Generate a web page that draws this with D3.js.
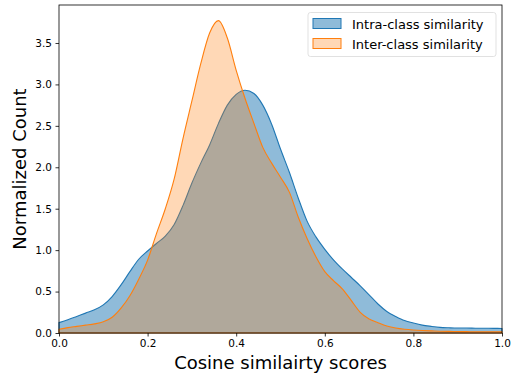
<!DOCTYPE html>
<html>
<head>
<meta charset="utf-8">
<script src="https://cdn.jsdelivr.net/npm/d3@7"></script>
<style>
  html, body { margin: 0; padding: 0; background: #fff; }
  svg { display: block; font-family: "DejaVu Sans", sans-serif; }
</style>
</head>
<body>
<svg id="chart" width="511" height="375"></svg>
<script>
// KDE grid of cosine similarity scores
const scores = d3.range(0, 51).map(i => +(i * 0.02).toFixed(2));

// Normalized density, intra-class pairs
const intraDensity = [
  0.125, 0.16, 0.20, 0.24, 0.28, 0.34, 0.44, 0.58, 0.74, 0.89,
  0.99, 1.08, 1.17, 1.31, 1.54, 1.81, 2.05, 2.27, 2.53, 2.75,
  2.88, 2.93, 2.89, 2.75, 2.52, 2.22, 1.94, 1.63, 1.35, 1.16,
  1.01, 0.88, 0.77, 0.67, 0.57, 0.46, 0.35, 0.26, 0.20, 0.15,
  0.12, 0.095, 0.08, 0.068, 0.063, 0.06, 0.06, 0.058, 0.057, 0.056,
  0.055
];

// Normalized density, inter-class pairs
const interDensity = [
  0.045, 0.065, 0.08, 0.095, 0.11, 0.135, 0.19, 0.30, 0.45, 0.65,
  0.88, 1.20, 1.50, 1.86, 2.35, 2.80, 3.25, 3.62, 3.77, 3.56,
  3.17, 2.83, 2.53, 2.24, 2.05, 1.88, 1.70, 1.40, 1.14, 0.92,
  0.74, 0.63, 0.53, 0.39, 0.25, 0.17, 0.125, 0.085, 0.06, 0.045,
  0.036, 0.03, 0.026, 0.022, 0.02, 0.018, 0.016, 0.015, 0.015, 0.015,
  0.015
];

const seriesNames = ["Intra-class similarity", "Inter-class similarity"];
const xTicks = [0, 0.2, 0.4, 0.6, 0.8, 1.0];
const yTicks = [0, 0.5, 1.0, 1.5, 2.0, 2.5, 3.0, 3.5];

const svg = d3.select("#chart");
const margin = { left: 59, right: 9, top: 5, bottom: 42 };
const W = 511, H = 375;
const innerW = W - margin.left - margin.right;
const innerH = H - margin.top - margin.bottom;

const yMax = d3.max(interDensity) * 1.05;
const x = d3.scaleLinear().domain([0, 1]).range([margin.left, margin.left + innerW]);
const y = d3.scaleLinear().domain([0, yMax]).range([margin.top + innerH, margin.top]);

const styles = [
  { line: "#1f77b4", fill: "#1f77b4", alpha: 0.5 },
  { line: "#ff7f0e", fill: "#ff7f0e", alpha: 0.3 }
];

const area = d3.area()
  .x(d => x(d[0]))
  .y0(y(0))
  .y1(d => y(d[1]))
  .curve(d3.curveMonotoneX);

const plot = svg.append("g");
[intraDensity, interDensity].forEach((vals, i) => {
  const pts = scores.map((s, j) => [s, vals[j]]);
  plot.append("path")
    .datum(pts)
    .attr("d", area)
    .attr("fill", styles[i].fill)
    .attr("fill-opacity", styles[i].alpha)
    .attr("stroke", styles[i].line)
    .attr("stroke-width", 1.1)
    .attr("stroke-linejoin", "round");
});

// Axes
const xAxis = d3.axisBottom(x).tickValues(xTicks).tickFormat(d3.format(".1f")).tickSize(3.5).tickPadding(3.5);
const yAxis = d3.axisLeft(y).tickValues(yTicks).tickFormat(d3.format(".1f")).tickSize(3.5).tickPadding(3.5);

const gx = svg.append("g").attr("transform", `translate(0,${margin.top + innerH})`).call(xAxis);
const gy = svg.append("g").attr("transform", `translate(${margin.left},0)`).call(yAxis);
[gx, gy].forEach(g => {
  g.select(".domain").remove();
  g.selectAll(".tick line").attr("stroke", "#000").attr("stroke-width", 0.8);
  g.selectAll(".tick text").attr("fill", "#000").style("font-size", "10.5px").style("font-family", "DejaVu Sans");
});

// Frame
svg.append("rect")
  .attr("x", margin.left).attr("y", margin.top)
  .attr("width", innerW).attr("height", innerH)
  .attr("fill", "none").attr("stroke", "#000").attr("stroke-width", 0.8);

// Axis titles
svg.append("text")
  .attr("x", margin.left + innerW / 2).attr("y", 369)
  .attr("text-anchor", "middle")
  .style("font-size", "18px")
  .text("Cosine similairty scores");

svg.append("text")
  .attr("transform", `translate(26,${margin.top + innerH / 2}) rotate(-90)`)
  .attr("text-anchor", "middle")
  .style("font-size", "18px")
  .text("Normalized Count");

// Legend
const lg = svg.append("g").attr("transform", "translate(308,12.5)");
lg.append("rect")
  .attr("width", 188).attr("height", 44).attr("rx", 2.5)
  .attr("fill", "#fff").attr("fill-opacity", 0.8)
  .attr("stroke", "#d9d9d9").attr("stroke-width", 0.8);
seriesNames.forEach((name, i) => {
  const row = lg.append("g").attr("transform", `translate(5,${6 + i * 20})`);
  row.append("rect")
    .attr("width", 28).attr("height", 10)
    .attr("fill", styles[i].fill).attr("fill-opacity", styles[i].alpha)
    .attr("stroke", styles[i].line).attr("stroke-width", 1);
  row.append("text")
    .attr("x", 39).attr("y", 10.5)
    .style("font-size", "13px")
    .text(name);
});
</script>
</body>
</html>
